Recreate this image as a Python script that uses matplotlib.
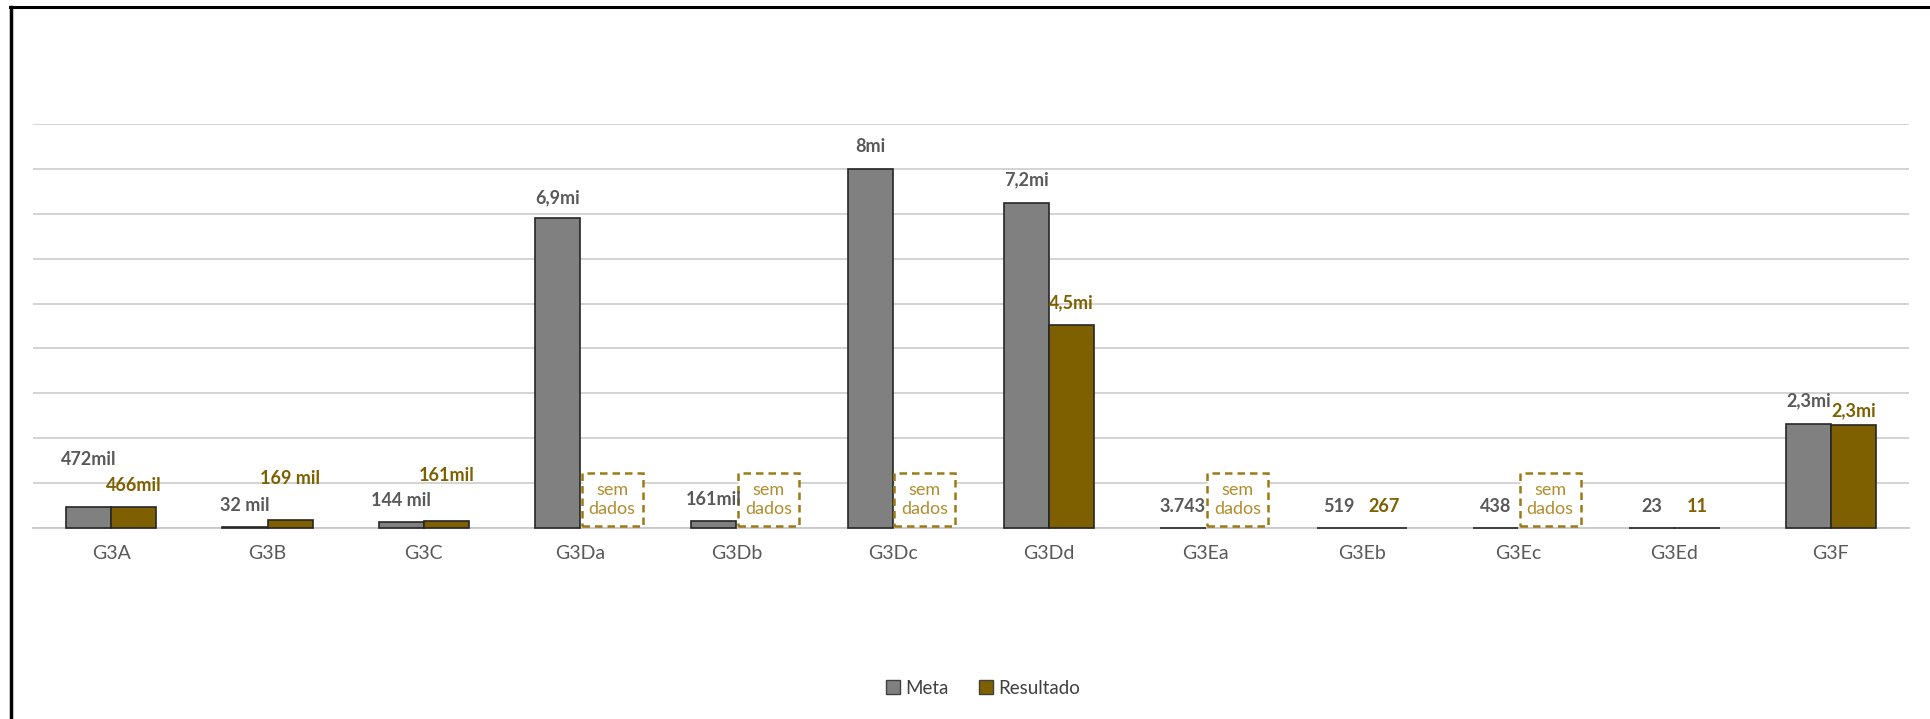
import numpy as np
import matplotlib
matplotlib.use('Agg')
import matplotlib.pyplot as plt
import matplotlib.patches as patch
from matplotlib.lines import Line2D

plt.rcParams['font.family'] = ['Lato', 'DejaVu Sans']

# data
categorias = ['G3A', 'G3B', 'G3C', 'G3Da', 'G3Db', 'G3Dc', 'G3Dd',
              'G3Ea', 'G3Eb', 'G3Ec', 'G3Ed', 'G3F']
meta = [472000, 32000, 144000, 6.9e6, 161000, 8.0e6, 7.24e6,
        3743, 519, 438, 23, 2.32e6]
resultado = [466000, 169000, 161000, np.nan, np.nan, np.nan, 4.53e6,
             np.nan, 267, np.nan, 11, 2.30e6]
meta_txt = ['472mil', '32 mil', '144 mil', '6,9mi', '161mil', '8mi', '7,2mi',
            '3.743', '519', '438', '23', '2,3mi']
res_txt = ['466mil', '169 mil', '161mil', '', '', '', '4,5mi',
           '', '267', '', '11', '2,3mi']

# label offsets above the bar top (pixels)
meta_off = [47, 21, 21, 21, 21, 22, 23, 21, 21, 21, 21, 23]
res_off = [22, 42, 45, 0, 0, 0, 22, 0, 21, 0, 21, 14]

cor_meta = '#808080'
cor_res = '#7F6000'

fig = plt.figure(figsize=(19.31, 7.19), dpi=100)
ax = fig.add_axes([33/1931, 1 - 528/719, (1909 - 33)/1931, (528 - 124)/719])

x = np.arange(len(categorias))
w = 0.288
b1 = ax.bar(x - w/2, meta, w, color=cor_meta, edgecolor='#262626', linewidth=1.2, zorder=3)
ok = ~np.isnan(resultado)
b2 = ax.bar(x[ok] + w/2, np.array(resultado)[ok], w, color=cor_res,
            edgecolor='#262626', linewidth=1.2, zorder=3)
for r in list(b1) + list(b2):
    r.set_clip_on(False)

for i in range(len(categorias)):
    ax.annotate(meta_txt[i], (x[i] - w/2, meta[i]), xytext=(0, meta_off[i]),
                textcoords='offset pixels', ha='center', va='center',
                fontsize=13, fontweight='bold', color='#595959', zorder=5)
    if ok[i]:
        ax.annotate(res_txt[i], (x[i] + w/2, resultado[i]), xytext=(0, res_off[i]),
                    textcoords='offset pixels', ha='center', va='center',
                    fontsize=13, fontweight='bold', color=cor_res, zorder=5)
    else:
        # "sem dados" text box where there is no result
        caixa = patch.Rectangle((x[i] + 0.01, 0.04e6), 0.39, 1.18e6,
                                facecolor='white', edgecolor='#9C7A17',
                                linewidth=1.8, linestyle=(0, (3, 2)), zorder=4)
        ax.add_patch(caixa)
        ax.text(x[i] + 0.01 + 0.195, 0.63e6, 'sem\ndados', ha='center', va='center',
                fontsize=13, color='#B08D2E', linespacing=1.2, zorder=5)

ax.set_xlim(-0.5, len(categorias) - 0.5)
ax.set_ylim(0, 9e6)
ax.set_yticks(np.arange(0, 9.01e6, 1e6))
ax.yaxis.grid(True, color='#D0D0D0', linewidth=1.3, zorder=0)
ax.set_axisbelow(True)
ax.set_yticklabels([])
ax.tick_params(axis='y', length=0)
ax.set_xticks(x)
ax.set_xticklabels(categorias, fontsize=14, color='#595959')
ax.tick_params(axis='x', length=0, pad=12)
for s in ['top', 'right', 'left']:
    ax.spines[s].set_visible(False)
ax.spines['bottom'].set_color('#C8C8C8')
ax.spines['bottom'].set_linewidth(1.3)

h_meta = patch.Patch(facecolor=cor_meta, edgecolor='#404040', label='Meta')
h_res = patch.Patch(facecolor=cor_res, edgecolor='#404040', label='Resultado')
leg = fig.legend(handles=[h_meta, h_res], loc='center', bbox_to_anchor=(983/1931, 1 - 688/719),
                 ncol=2, frameon=False, fontsize=13.5, handlelength=0.75, handleheight=0.75,
                 handletextpad=0.3, columnspacing=1.6)
for t in leg.get_texts():
    t.set_color('#404040')

# outer frame (left and top edges only are visible)
fig.add_artist(Line2D([11/1931, 11/1931], [0, 1 - 7/719], color='black', linewidth=2.5,
                      transform=fig.transFigure))
fig.add_artist(Line2D([10/1931, 1], [1 - 7/719, 1 - 7/719], color='black', linewidth=2.2,
                      transform=fig.transFigure))

fig.savefig('out.png', dpi=100)
